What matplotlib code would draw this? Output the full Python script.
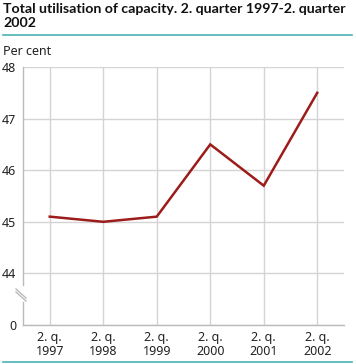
import numpy as np
import matplotlib
matplotlib.use("Agg")
import matplotlib.pyplot as plt
from matplotlib.lines import Line2D

categories = ["2. q.\n1997", "2. q.\n1998", "2. q.\n1999", "2. q.\n2000", "2. q.\n2001", "2. q.\n2002"]
values = [45.1, 45.0, 45.1, 46.5, 45.7, 47.5]
yticks = [0, 44, 45, 46, 47, 48]
title = "Total utilisation of capacity. 2. quarter 1997-2. quarter\n2002"
ylabel = "Per cent"

W, H = 356, 364
plt.rcParams['font.family'] = ['Noto Sans', 'DejaVu Sans']
fig = plt.figure(figsize=(W / 100, H / 100), dpi=100)

def fwd(v):
    v = np.asarray(v, dtype=float)
    return np.where(v >= 44, v - 43, v / 44.0)

def inv(u):
    u = np.asarray(u, dtype=float)
    return np.where(u >= 1, u + 43, u * 44.0)

left, right = 23 / W, 344 / W
bottom, top = 1 - 325 / H, 1 - 67 / H
ax = fig.add_axes([left, bottom, right - left, top - bottom])
ax.set_yscale('function', functions=(fwd, inv))

x = np.arange(len(categories))
ax.plot(x, values, color='#9c1c1a', lw=1.8, solid_joinstyle='miter', zorder=3)

ax.set_xlim(-0.5, len(categories) - 0.5)
ax.set_ylim(0, 48)
ax.set_yticks(yticks)
ax.set_yticklabels([str(t) for t in yticks])
ax.set_xticks(x)
ax.set_xticklabels(categories, linespacing=1.1)
ax.grid(True, color='#d4d4d4', lw=1)
ax.set_axisbelow(True)
ax.tick_params(length=0, labelsize=9, colors='#222222', pad=4)
ax.tick_params(axis='y', pad=5)
for s in ['top', 'right', 'left']:
    ax.spines[s].set_visible(False)
ax.spines['bottom'].set_color('#bbbbbb')
ax.spines['bottom'].set_linewidth(1)

# left axis line with a break between 0 and 44
def ypix(u):
    return ax.transAxes.transform((0, u / 5.0))[1]
x0 = ax.transAxes.transform((0, 0))[0]
gap_lo, gap_hi = 0.45, 0.78
fig.add_artist(Line2D([x0 / W, x0 / W], [ypix(0) / H, ypix(gap_lo) / H], color='#bbbbbb', lw=1))
fig.add_artist(Line2D([x0 / W, x0 / W], [ypix(gap_hi) / H, ypix(5) / H], color='#bbbbbb', lw=1))
for dy in (0, 3):
    fig.add_artist(Line2D([(x0 - 7) / W, (x0 + 3) / W],
                          [(H - 289 - dy) / H, (H - 298 - dy) / H],
                          color='#bbbbbb', lw=1))

fig.text(3 / W, 1 - 3 / H, title, ha='left', va='top', fontsize=10.2, fontweight='bold',
         family=['Lato', 'DejaVu Sans'], color='#111111', linespacing=1.2)
fig.add_artist(Line2D([3 / W, 352 / W], [1 - 35 / H, 1 - 35 / H], color='#4bb3b3', lw=1.2))
fig.add_artist(Line2D([3 / W, 352 / W], [1 - 362 / H, 1 - 362 / H], color='#4bb3b3', lw=1.2))
fig.text(3 / W, 1 - 45 / H, ylabel, ha='left', va='top', fontsize=9, color='#222222')

fig.savefig("out.png", dpi=100)
